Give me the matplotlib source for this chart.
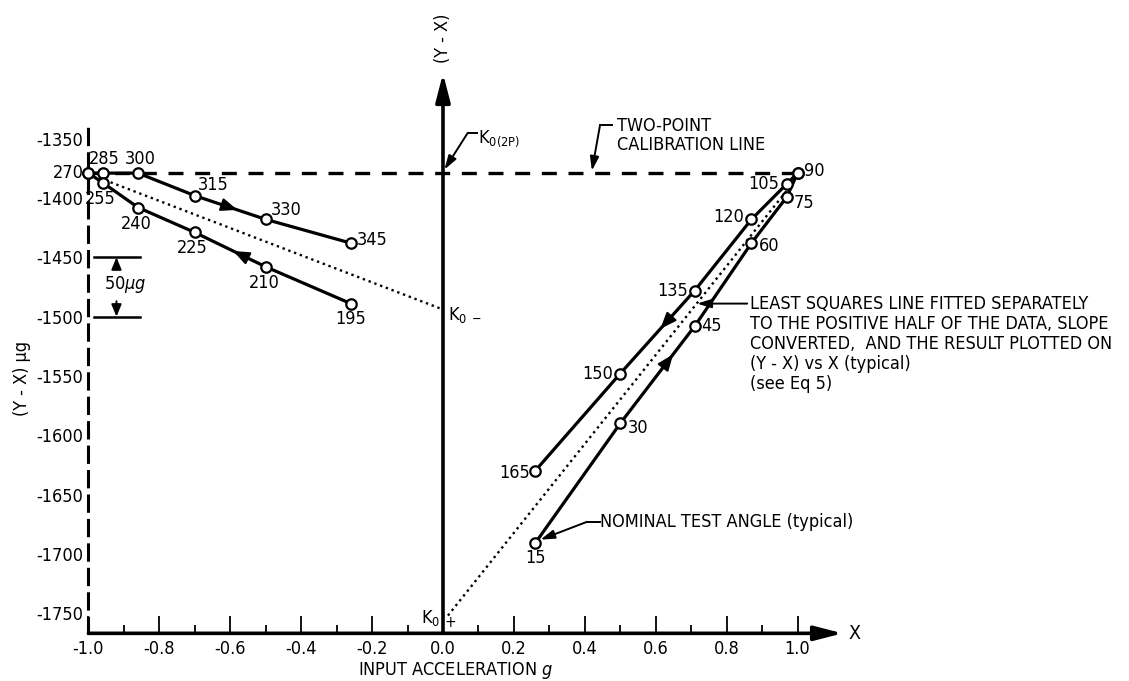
import matplotlib
matplotlib.use("Agg")
import matplotlib.pyplot as plt
from matplotlib import font_manager

# the original lettering is a narrow sans; take a condensed face if one is installed
_NARROW = [(f.name, f.stretch) for f in font_manager.fontManager.ttflist
           if str(f.stretch) in ("condensed", "semi-condensed", "75", "87")]
_PREF = ["Liberation Sans Narrow", "DejaVu Sans", "Roboto Condensed", "Roboto",
         "Open Sans", "Noto Sans"]
FAMILY, STRETCH = "Liberation Sans", "normal"
for name in _PREF:
    hit = [s for n, s in _NARROW if n == name]
    if hit:
        FAMILY, STRETCH = name, hit[0]
        break
plt.rcParams["font.family"] = [FAMILY, "DejaVu Sans"]
plt.rcParams["font.stretch"] = STRETCH
plt.rcParams["axes.unicode_minus"] = False

# Test data: nominal angle (deg), input acceleration X (g), (Y - X) in micro-g.
POS_UP_ANGLE = [15, 30, 45, 60, 75, 90]
POS_UP_X = [0.26, 0.50, 0.71, 0.87, 0.97, 1.00]
POS_UP_DEV = [-1691, -1590, -1508, -1438, -1399, -1379]

POS_DN_ANGLE = [90, 105, 120, 135, 150, 165]
POS_DN_X = [1.00, 0.97, 0.87, 0.71, 0.50, 0.26]
POS_DN_DEV = [-1379, -1388, -1418, -1478, -1548, -1630]

NEG_UP_ANGLE = [270, 285, 300, 315, 330, 345]
NEG_UP_X = [-1.00, -0.96, -0.86, -0.70, -0.50, -0.26]
NEG_UP_DEV = [-1379, -1379, -1379, -1398, -1418, -1438]

NEG_DN_ANGLE = [195, 210, 225, 240, 255, 270]
NEG_DN_X = [-0.26, -0.50, -0.70, -0.86, -0.96, -1.00]
NEG_DN_DEV = [-1489, -1458, -1429, -1408, -1387, -1379]

# least squares lines (negative / positive half) and two-point calibration level
LSQ_NEG_X = [-0.97, 0.0]
LSQ_NEG_Y = [-1383, -1494]
LSQ_POS_X = [0.014, 0.985]
LSQ_POS_Y = [-1752, -1388]
TWO_POINT_X = [-1.0, 1.0]
TWO_POINT_Y = [-1379, -1379]

X_MAJOR = [-1.0, -0.8, -0.6, -0.4, -0.2, 0.0, 0.2, 0.4, 0.6, 0.8, 1.0]
X_MINOR = [-0.9, -0.7, -0.5, -0.3, -0.1, 0.1, 0.3, 0.5, 0.7, 0.9]
Y_TICKS = [-1350, -1400, -1450, -1500, -1550, -1600, -1650, -1700, -1750]

# label placement per angle: (dx pt, dy pt, ha)
LABEL_POS = {
    270: (-3, 0, "right"), 285: (1.5, 10, "center"), 300: (1.5, 10, "center"),
    315: (13, 8, "center"), 330: (14.5, 6.5, "center"), 345: (4.5, 2, "left"),
    255: (-1.5, -12, "center"), 240: (-1.5, -12, "center"),
    225: (-2, -11.5, "center"), 210: (-1, -11.5, "center"), 195: (0, -11, "center"),
    90: (5, 1.5, "left"), 105: (-5.5, 0, "right"), 75: (5, -4.5, "left"),
    120: (-5.5, 1.5, "right"), 60: (5, -2, "left"), 135: (-5, 0, "right"),
    45: (5, 0, "left"), 150: (-5, 0, "right"), 30: (5.5, -3, "left"),
    165: (-4, -1.5, "right"), 15: (0, -11, "center"),
}

FS = 13 if STRETCH != "normal" else 11.5
Y_AXIS = -1767  # level of the X axis line


def _arrow_on(ax, xs, ys, i, frac):
    x0, y0, x1, y1 = xs[i], ys[i], xs[i + 1], ys[i + 1]
    tip = (x0 + frac * (x1 - x0), y0 + frac * (y1 - y0))
    tail = (x0 + (frac - 0.3) * (x1 - x0), y0 + (frac - 0.3) * (y1 - y0))
    ax.annotate("", xy=tip, xytext=tail,
                arrowprops=dict(arrowstyle="-|>,head_length=0.7,head_width=0.28",
                                color="black", lw=1.5, mutation_scale=14,
                                shrinkA=0, shrinkB=0))


def _leader(ax, start, corner, tip):
    ax.plot([start[0], corner[0]], [start[1], corner[1]], color="black", lw=1.4,
            clip_on=False)
    ax.annotate("", xy=tip, xytext=corner,
                arrowprops=dict(arrowstyle="-|>,head_length=0.7,head_width=0.22",
                                color="black", lw=1.4, mutation_scale=12,
                                shrinkA=0, shrinkB=0), annotation_clip=False)


fig = plt.figure(figsize=(11.29, 6.81), dpi=100)
ax = fig.add_axes([0.0658, 0.0700, 0.7034, 0.8308])
ax.set_xlim(-1.04, 1.20)
ax.set_ylim(Y_AXIS, -1290)

for s in ("top", "right", "bottom"):
    ax.spines[s].set_visible(False)
ax.spines["left"].set_position(("data", -1.0))
ax.spines["left"].set_bounds(Y_AXIS, -1340)
ax.spines["left"].set_linestyle((0, (5, 3)))
ax.spines["left"].set_linewidth(2.2)

ax.set_yticks(Y_TICKS)
ax.set_yticklabels([str(v) for v in Y_TICKS])
ax.tick_params(axis="y", length=0, pad=4, labelsize=FS)
ax.set_xticks(X_MAJOR)
ax.set_xticklabels([f"{v:.1f}" for v in X_MAJOR])
ax.set_xticks(X_MINOR, minor=True)
ax.tick_params(axis="x", which="major", direction="in", length=12, width=1.3,
               pad=5, labelsize=FS)
ax.tick_params(axis="x", which="minor", direction="in", length=6, width=1.3)

# main axes with arrowheads
axis_arrow = dict(arrowstyle="-|>,head_length=0.85,head_width=0.22", color="black",
                  lw=2.6, mutation_scale=20, shrinkA=0, shrinkB=0)
ax.annotate("", xy=(1.127, Y_AXIS), xytext=(-1.0, Y_AXIS), arrowprops=axis_arrow,
            annotation_clip=False)
ax.annotate("", xy=(0.0, -1295), xytext=(0.0, Y_AXIS), arrowprops=axis_arrow,
            annotation_clip=False)

# calibration and least squares lines
ax.plot(TWO_POINT_X, TWO_POINT_Y, color="black", lw=2.4, ls=(0, (4.5, 3.5)))
ax.plot(LSQ_NEG_X, LSQ_NEG_Y, color="black", lw=1.7, ls=(0, (1, 1.6)))
ax.plot(LSQ_POS_X, LSQ_POS_Y, color="black", lw=1.7, ls=(0, (1, 1.6)))

branches = [
    (NEG_UP_ANGLE, NEG_UP_X, NEG_UP_DEV, 3, 0.6),
    (NEG_DN_ANGLE, NEG_DN_X, NEG_DN_DEV, 1, 0.46),
    (POS_UP_ANGLE, POS_UP_X, POS_UP_DEV, 1, 0.71),
    (POS_DN_ANGLE, POS_DN_X, POS_DN_DEV, 3, 0.46),
]
labelled = set()
for angles, xs, ys, seg, frac in branches:
    ax.plot(xs, ys, color="black", lw=2.3, marker="o", ms=7.5, mfc="white",
            mec="black", mew=1.6, zorder=4)
    _arrow_on(ax, xs, ys, seg, frac)
    for a, x, y in zip(angles, xs, ys):
        if a in labelled:  # 90 and 270 close a loop, label them once
            continue
        labelled.add(a)
        dx, dy, ha = LABEL_POS[a]
        ax.annotate(str(a), xy=(x, y), xytext=(dx, dy), textcoords="offset points",
                    ha=ha, va="center", fontsize=FS, zorder=5)

# scale bar
for lvl in (-1450, -1500):
    ax.plot([-0.983, -0.856], [lvl, lvl], color="black", lw=1.8)
small_arrow = dict(arrowstyle="-|>,head_length=0.6,head_width=0.25", color="black",
                   lw=1.4, mutation_scale=12, shrinkA=0, shrinkB=0)
ax.annotate("", xy=(-0.921, -1450), xytext=(-0.921, -1460), arrowprops=small_arrow)
ax.annotate("", xy=(-0.921, -1500), xytext=(-0.921, -1487), arrowprops=small_arrow)
ax.text(-0.897, -1473, r"50$\mathit{\mu g}$", ha="center", va="center", fontsize=FS)

# axis labels
ax.text(0.0, -1265, "(Y - X)", rotation=90, ha="center", va="center", fontsize=FS)
ax.text(1.16, Y_AXIS, "X", ha="center", va="center", fontsize=FS + 1)
ax.text(0.034, -1798, "INPUT ACCELERATION $\\mathit{g}$", ha="center", va="center",
        fontsize=FS)
ax.text(-1.188, -1552, "(Y - X) μg", rotation=90, ha="center", va="center",
        fontsize=FS)

# K0 markers
ax.text(0.10, -1350, r"K$_{\mathregular{0(2P)}}$", ha="left", va="center", fontsize=FS)
_leader(ax, (0.096, -1345), (0.07, -1345), (0.004, -1376))
ax.text(0.015, -1499, r"K$_{\mathregular{0\;-}}$", ha="left", va="center", fontsize=FS)
ax.text(-0.008, -1754, r"K$_{\mathregular{0}}$", ha="right", va="center", fontsize=FS)
ax.text(0.02, -1758, "+", ha="center", va="center", fontsize=FS - 2)

# annotations
ax.text(0.491, -1347, "TWO-POINT\nCALIBRATION LINE", ha="left", va="center",
        fontsize=FS, linespacing=1.05)
_leader(ax, (0.477, -1338.5), (0.443, -1338.5), (0.42, -1377))
ax.text(0.865, -1482,
        "LEAST SQUARES LINE FITTED SEPARATELY\n"
        "TO THE POSITIVE HALF OF THE DATA, SLOPE\n"
        "CONVERTED,  AND THE RESULT PLOTTED ON\n"
        "(Y - X) vs X (typical)\n"
        "(see Eq 5)",
        ha="left", va="top", fontsize=FS, linespacing=1.14)
ax.annotate("", xy=(0.717, -1489), xytext=(0.858, -1489),
            arrowprops=dict(arrowstyle="-|>,head_length=0.7,head_width=0.22",
                            color="black", lw=1.4, mutation_scale=12,
                            shrinkA=0, shrinkB=0), annotation_clip=False)
ax.text(0.443, -1673, "NOMINAL TEST ANGLE (typical)", ha="left", va="center",
        fontsize=FS)
_leader(ax, (0.443, -1673), (0.406, -1673), (0.275, -1688))

fig.savefig("out.png", dpi=100)
